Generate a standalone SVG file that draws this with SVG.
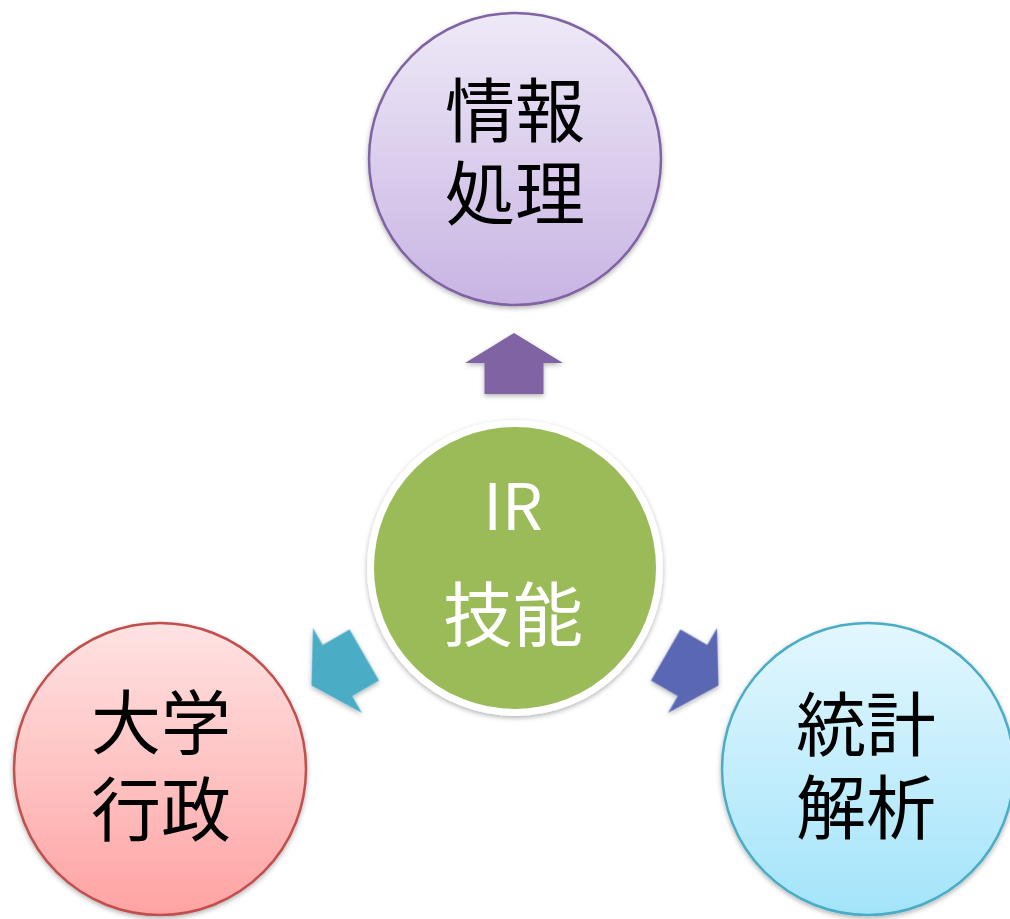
<svg xmlns="http://www.w3.org/2000/svg" width="1010" height="919" viewBox="0 0 1010 919">
<style>
.jp{font-family:"Noto Sans CJK JP","Noto Sans CJK SC",sans-serif;font-size:70px;fill:#000;text-anchor:middle}
.ctr{font-family:"Noto Sans CJK JP","Noto Sans CJK SC",sans-serif;fill:#fff;text-anchor:middle}
</style>
<defs>
<linearGradient id="gPurple" x1="0" y1="0" x2="0" y2="1"><stop offset="0" stop-color="#EEE9F7"/><stop offset="1" stop-color="#C8B4E3"/></linearGradient>
<linearGradient id="gRed" x1="0" y1="0" x2="0" y2="1"><stop offset="0" stop-color="#FFE3E3"/><stop offset="1" stop-color="#FFA3A3"/></linearGradient>
<linearGradient id="gBlue" x1="0" y1="0" x2="0" y2="1"><stop offset="0" stop-color="#E3F7FE"/><stop offset="1" stop-color="#A3E4FA"/></linearGradient>
<filter id="sh" x="-20%" y="-20%" width="140%" height="140%"><feDropShadow dx="0" dy="2" stdDeviation="2.5" flood-color="#000" flood-opacity="0.3"/></filter>
<path id="arrow" d="M0,-30.5 L49,-0.5 L29.5,-0.5 L29.5,30.5 L-29.5,30.5 L-29.5,-0.5 L-49,-0.5 Z"/>
</defs>
<rect width="1010" height="919" fill="#fff"/>
<g id="connectors" filter="url(#sh)">
<use href="#arrow" transform="translate(514,363.5)" fill="#8064A2"/>
<use href="#arrow" transform="rotate(-120 515 568) translate(515,363.5)" fill="#4BACC6"/>
<use href="#arrow" transform="rotate(120 515 568) translate(515,363.5)" fill="#5A68B4"/>
</g>
<g id="node-joho" filter="url(#sh)">
<circle cx="515" cy="159" r="146" fill="url(#gPurple)" stroke="#8064A2" stroke-width="2.5"/>
<text class="jp"><tspan x="515" y="137">情報</tspan><tspan x="515" y="220">処理</tspan></text>
</g>
<g id="node-daigaku" filter="url(#sh)">
<circle cx="160" cy="769" r="146" fill="url(#gRed)" stroke="#C0504D" stroke-width="2.5"/>
<text class="jp"><tspan x="161" y="749">大学</tspan><tspan x="161" y="836">行政</tspan></text>
</g>
<g id="node-tokei" filter="url(#sh)">
<circle cx="868" cy="769" r="146" fill="url(#gBlue)" stroke="#4BACC6" stroke-width="2.5"/>
<text class="jp"><tspan x="866" y="751">統計</tspan><tspan x="866" y="834">解析</tspan></text>
</g>
<g id="node-ir" filter="url(#sh)">
<circle cx="515" cy="568" r="144.5" fill="#9BBB59" stroke="#fff" stroke-width="7"/>
<text class="ctr" x="513" y="530" font-size="64">IR</text>
<text class="ctr" x="513" y="641" font-size="70">技能</text>
</g>
</svg>
